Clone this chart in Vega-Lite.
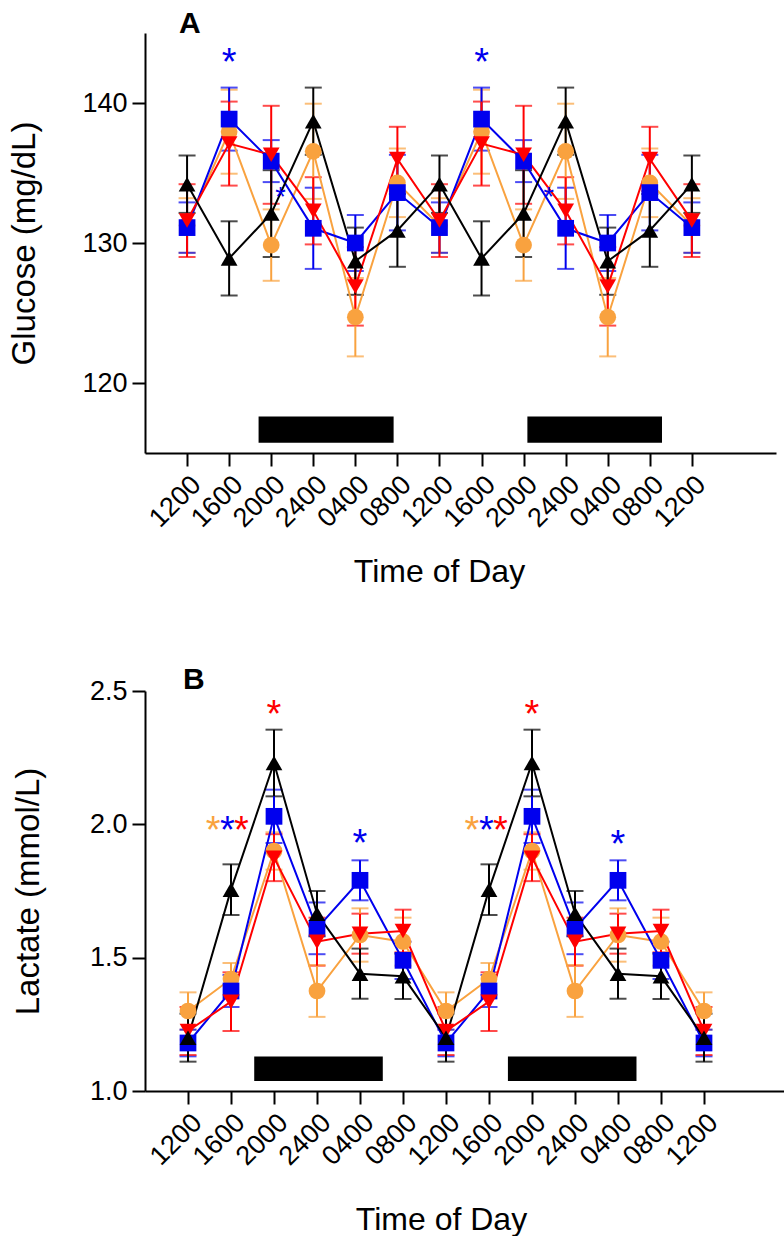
{
  "$schema": "https://vega.github.io/schema/vega-lite/v6.json",
  "background": "white",
  "padding": {"left": 8, "top": 9, "right": 0, "bottom": 0},
  "spacing": 77,
  "config": {
    "font": "Liberation Sans",
    "view": {"stroke": null},
    "axis": {
      "grid": false,
      "domainColor": "black",
      "domainWidth": 2,
      "tickColor": "black",
      "tickWidth": 2,
      "tickSize": 13,
      "labelColor": "black",
      "labelFontSize": 27,
      "labelPadding": 5,
      "titleColor": "black",
      "titleFontSize": 33,
      "titleFontWeight": "normal",
      "labelOverlap": false,
      "labelFlush": false
    }
  },
  "datasets": {
    "glu": [
      {"i":0,"g":"orange","m":131.25,"se":1.95},{"i":1,"g":"orange","m":137.95,"se":3.0},{"i":2,"g":"orange","m":129.85,"se":2.55},{"i":3,"g":"orange","m":136.55,"se":3.4},{"i":4,"g":"orange","m":124.7,"se":2.8},{"i":5,"g":"orange","m":134.3,"se":2.45},
      {"i":6,"g":"orange","m":131.25,"se":1.95},{"i":7,"g":"orange","m":137.95,"se":3.0},{"i":8,"g":"orange","m":129.85,"se":2.55},{"i":9,"g":"orange","m":136.55,"se":3.4},{"i":10,"g":"orange","m":124.7,"se":2.8},{"i":11,"g":"orange","m":134.3,"se":2.45},{"i":12,"g":"orange","m":131.25,"se":1.95},
      {"i":0,"g":"blue","m":131.1,"se":1.8},{"i":1,"g":"blue","m":138.85,"se":2.25},{"i":2,"g":"blue","m":135.85,"se":1.5},{"i":3,"g":"blue","m":131.05,"se":2.9},{"i":4,"g":"blue","m":130.0,"se":2.0},{"i":5,"g":"blue","m":133.6,"se":2.7},
      {"i":6,"g":"blue","m":131.1,"se":1.8},{"i":7,"g":"blue","m":138.85,"se":2.25},{"i":8,"g":"blue","m":135.85,"se":1.5},{"i":9,"g":"blue","m":131.05,"se":2.9},{"i":10,"g":"blue","m":130.0,"se":2.0},{"i":11,"g":"blue","m":133.6,"se":2.7},{"i":12,"g":"blue","m":131.1,"se":1.8},
      {"i":0,"g":"red","m":131.6,"se":2.6},{"i":1,"g":"red","m":137.1,"se":3.0},{"i":2,"g":"red","m":136.3,"se":3.5},{"i":3,"g":"red","m":132.3,"se":2.4},{"i":4,"g":"red","m":126.9,"se":2.8},{"i":5,"g":"red","m":136.0,"se":2.3},
      {"i":6,"g":"red","m":131.6,"se":2.6},{"i":7,"g":"red","m":137.1,"se":3.0},{"i":8,"g":"red","m":136.3,"se":3.5},{"i":9,"g":"red","m":132.3,"se":2.4},{"i":10,"g":"red","m":126.9,"se":2.8},{"i":11,"g":"red","m":136.0,"se":2.3},{"i":12,"g":"red","m":131.6,"se":2.6},
      {"i":0,"g":"black","m":134.2,"se":2.05},{"i":1,"g":"black","m":128.9,"se":2.65},{"i":2,"g":"black","m":132.1,"se":3.1},{"i":3,"g":"black","m":138.7,"se":2.4},{"i":4,"g":"black","m":128.7,"se":2.4},{"i":5,"g":"black","m":130.9,"se":2.6},
      {"i":6,"g":"black","m":134.2,"se":2.05},{"i":7,"g":"black","m":128.9,"se":2.65},{"i":8,"g":"black","m":132.1,"se":3.1},{"i":9,"g":"black","m":138.7,"se":2.4},{"i":10,"g":"black","m":128.7,"se":2.4},{"i":11,"g":"black","m":130.9,"se":2.6},{"i":12,"g":"black","m":134.2,"se":2.05}
    ],
    "lac": [
      {"i":0,"g":"orange","m":1.30,"se":0.07},{"i":1,"g":"orange","m":1.42,"se":0.06},{"i":2,"g":"orange","m":1.90,"se":0.07},{"i":3,"g":"orange","m":1.375,"se":0.097},{"i":4,"g":"orange","m":1.585,"se":0.10},{"i":5,"g":"orange","m":1.56,"se":0.09},
      {"i":6,"g":"orange","m":1.30,"se":0.07},{"i":7,"g":"orange","m":1.42,"se":0.06},{"i":8,"g":"orange","m":1.90,"se":0.07},{"i":9,"g":"orange","m":1.375,"se":0.097},{"i":10,"g":"orange","m":1.585,"se":0.10},{"i":11,"g":"orange","m":1.56,"se":0.09},{"i":12,"g":"orange","m":1.30,"se":0.07},
      {"i":0,"g":"blue","m":1.18,"se":0.05},{"i":1,"g":"blue","m":1.375,"se":0.06},{"i":2,"g":"blue","m":2.03,"se":0.10},{"i":3,"g":"blue","m":1.61,"se":0.097},{"i":4,"g":"blue","m":1.79,"se":0.075},{"i":5,"g":"blue","m":1.49,"se":0.07},
      {"i":6,"g":"blue","m":1.18,"se":0.05},{"i":7,"g":"blue","m":1.375,"se":0.06},{"i":8,"g":"blue","m":2.03,"se":0.10},{"i":9,"g":"blue","m":1.61,"se":0.097},{"i":10,"g":"blue","m":1.79,"se":0.075},{"i":11,"g":"blue","m":1.49,"se":0.07},{"i":12,"g":"blue","m":1.18,"se":0.05},
      {"i":0,"g":"red","m":1.225,"se":0.09},{"i":1,"g":"red","m":1.335,"se":0.11},{"i":2,"g":"red","m":1.875,"se":0.088},{"i":3,"g":"red","m":1.56,"se":0.09},{"i":4,"g":"red","m":1.59,"se":0.075},{"i":5,"g":"red","m":1.60,"se":0.08},
      {"i":6,"g":"red","m":1.225,"se":0.09},{"i":7,"g":"red","m":1.335,"se":0.11},{"i":8,"g":"red","m":1.875,"se":0.088},{"i":9,"g":"red","m":1.56,"se":0.09},{"i":10,"g":"red","m":1.59,"se":0.075},{"i":11,"g":"red","m":1.60,"se":0.08},{"i":12,"g":"red","m":1.225,"se":0.09},
      {"i":0,"g":"black","m":1.20,"se":0.09},{"i":1,"g":"black","m":1.755,"se":0.095},{"i":2,"g":"black","m":2.23,"se":0.125},{"i":3,"g":"black","m":1.665,"se":0.085},{"i":4,"g":"black","m":1.44,"se":0.094},{"i":5,"g":"black","m":1.43,"se":0.085},
      {"i":6,"g":"black","m":1.20,"se":0.09},{"i":7,"g":"black","m":1.755,"se":0.095},{"i":8,"g":"black","m":2.23,"se":0.125},{"i":9,"g":"black","m":1.665,"se":0.085},{"i":10,"g":"black","m":1.44,"se":0.094},{"i":11,"g":"black","m":1.43,"se":0.085},{"i":12,"g":"black","m":1.20,"se":0.09}
    ],
    "darkA": [{"x0":1.70,"x1":4.91,"y0":115.74,"y1":117.6},{"x0":8.09,"x1":11.29,"y0":115.74,"y1":117.6}],
    "darkB": [{"x0":1.54,"x1":4.53,"y0":1.0375,"y1":1.129},{"x0":7.44,"x1":10.43,"y0":1.0375,"y1":1.129}],
    "starsA": [
      {"i":1,"v":143.36,"g":"blue","t":"*","kind":"big"},
      {"i":7,"v":143.36,"g":"blue","t":"*","kind":"big"},
      {"i":2.22,"v":133.55,"g":"blue","t":"*","kind":"small"},
      {"i":8.6,"v":133.55,"g":"blue","t":"*","kind":"small"}
    ],
    "starsB": [
      {"i":2,"v":2.435,"g":"red","t":"*"},
      {"i":8,"v":2.435,"g":"red","t":"*"},
      {"i":0.583,"v":2.0,"g":"orange","t":"*"},
      {"i":0.916,"v":2.0,"g":"blue","t":"*"},
      {"i":1.243,"v":2.0,"g":"red","t":"*"},
      {"i":6.604,"v":2.0,"g":"orange","t":"*"},
      {"i":6.937,"v":2.0,"g":"blue","t":"*"},
      {"i":7.263,"v":2.0,"g":"red","t":"*"},
      {"i":4,"v":1.954,"g":"blue","t":"*"},
      {"i":10,"v":1.95,"g":"blue","t":"*"}
    ]
  },
  "vconcat": [
    {
      "width": 631,
      "height": 420,
      "title": {"text": "A", "anchor": "start", "frame": "group", "dx": 34, "fontSize": 30, "fontWeight": "bold", "offset": -6, "color": "black"},
      "layer": [
        {
          "data": {"name": "darkA"},
          "mark": {"type": "rect", "color": "black"},
          "encoding": {
            "x": {"field": "x0", "type": "quantitative", "title": "Time of Day",
                  "scale": {"domain": [-1, 14], "nice": false, "zero": false},
                  "axis": {"values": [0,1,2,3,4,5,6,7,8,9,10,11,12],
                           "labelExpr": "['1200','1600','2000','2400','0400','0800'][datum.value % 6]",
                           "labelAngle": -45, "labelFontSize": 27, "titleFontSize": 32, "titlePadding": 25, "titleX": 294}},
            "x2": {"field": "x1"},
            "y": {"field": "y0", "type": "quantitative", "title": "Glucose (mg/dL)",
                  "scale": {"domain": [115, 145], "nice": false, "zero": false},
                  "axis": {"values": [120, 130, 140], "titlePadding": 40}},
            "y2": {"field": "y1"}
          }
        },
        {
          "data": {"name": "glu"},
          "mark": {"type": "errorbar", "ticks": true, "size": 17, "thickness": 2},
          "encoding": {
            "x": {"field": "i", "type": "quantitative", "title": "Time of Day"},
            "y": {"field": "m", "type": "quantitative", "title": "Glucose (mg/dL)"},
            "yError": {"field": "se"},
            "color": {"field": "g", "type": "nominal", "legend": null,
                      "scale": {"domain": ["black", "blue", "orange", "red"], "range": ["#000000", "#0000EE", "#F9A23F", "#FF0000"]}}
          }
        },
        {
          "data": {"name": "glu"},
          "mark": {"type": "line", "strokeWidth": 2},
          "encoding": {
            "x": {"field": "i", "type": "quantitative", "title": "Time of Day"},
            "y": {"field": "m", "type": "quantitative", "title": "Glucose (mg/dL)"},
            "color": {"field": "g", "type": "nominal", "legend": null},
            "order": {"field": "i"}
          }
        },
        {
          "data": {"name": "glu"},
          "mark": {"type": "point", "filled": true, "opacity": 1, "size": 280, "strokeWidth": 0},
          "encoding": {
            "x": {"field": "i", "type": "quantitative", "title": "Time of Day"},
            "y": {"field": "m", "type": "quantitative", "title": "Glucose (mg/dL)"},
            "color": {"field": "g", "type": "nominal", "legend": null},
            "shape": {"field": "g", "type": "nominal", "legend": null,
                      "scale": {"domain": ["black", "blue", "orange", "red"], "range": ["triangle-up", "square", "circle", "triangle-down"]}}
          }
        },
        {
          "data": {"name": "starsA"},
          "transform": [{"filter": "datum.kind === 'big'"}],
          "mark": {"type": "text", "fontSize": 38, "baseline": "alphabetic", "dy": 19},
          "encoding": {
            "x": {"field": "i", "type": "quantitative", "title": "Time of Day"},
            "y": {"field": "v", "type": "quantitative", "title": "Glucose (mg/dL)"},
            "text": {"field": "t"},
            "color": {"field": "g", "type": "nominal", "legend": null}
          }
        },
        {
          "data": {"name": "starsA"},
          "transform": [{"filter": "datum.kind === 'small'"}],
          "mark": {"type": "text", "fontSize": 27, "baseline": "alphabetic", "dy": 13},
          "encoding": {
            "x": {"field": "i", "type": "quantitative", "title": "Time of Day"},
            "y": {"field": "v", "type": "quantitative", "title": "Glucose (mg/dL)"},
            "text": {"field": "t"},
            "color": {"field": "g", "type": "nominal", "legend": null}
          }
        }
      ]
    },
    {
      "width": 645,
      "height": 400,
      "title": {"text": "B", "anchor": "start", "frame": "group", "dx": 38, "fontSize": 30, "fontWeight": "bold", "offset": -18, "color": "black"},
      "layer": [
        {
          "data": {"name": "darkB"},
          "mark": {"type": "rect", "color": "black"},
          "encoding": {
            "x": {"field": "x0", "type": "quantitative", "title": "Time of Day",
                  "scale": {"domain": [-1, 14], "nice": false, "zero": false},
                  "axis": {"values": [0,1,2,3,4,5,6,7,8,9,10,11,12],
                           "labelExpr": "['1200','1600','2000','2400','0400','0800'][datum.value % 6]",
                           "labelAngle": -45, "labelFontSize": 27, "titleFontSize": 32, "titlePadding": 35, "titleX": 296}},
            "x2": {"field": "x1"},
            "y": {"field": "y0", "type": "quantitative", "title": "Lactate (mmol/L)",
                  "scale": {"domain": [1.0, 2.5], "nice": false, "zero": false},
                  "axis": {"values": [1.0, 1.5, 2.0, 2.5], "format": ".1f", "titlePadding": 44}},
            "y2": {"field": "y1"}
          }
        },
        {
          "data": {"name": "lac"},
          "mark": {"type": "errorbar", "ticks": true, "size": 17, "thickness": 2},
          "encoding": {
            "x": {"field": "i", "type": "quantitative", "title": "Time of Day"},
            "y": {"field": "m", "type": "quantitative", "title": "Lactate (mmol/L)"},
            "yError": {"field": "se"},
            "color": {"field": "g", "type": "nominal", "legend": null,
                      "scale": {"domain": ["black", "blue", "orange", "red"], "range": ["#000000", "#0000EE", "#F9A23F", "#FF0000"]}}
          }
        },
        {
          "data": {"name": "lac"},
          "mark": {"type": "line", "strokeWidth": 2},
          "encoding": {
            "x": {"field": "i", "type": "quantitative", "title": "Time of Day"},
            "y": {"field": "m", "type": "quantitative", "title": "Lactate (mmol/L)"},
            "color": {"field": "g", "type": "nominal", "legend": null},
            "order": {"field": "i"}
          }
        },
        {
          "data": {"name": "lac"},
          "mark": {"type": "point", "filled": true, "opacity": 1, "size": 280, "strokeWidth": 0},
          "encoding": {
            "x": {"field": "i", "type": "quantitative", "title": "Time of Day"},
            "y": {"field": "m", "type": "quantitative", "title": "Lactate (mmol/L)"},
            "color": {"field": "g", "type": "nominal", "legend": null},
            "shape": {"field": "g", "type": "nominal", "legend": null,
                      "scale": {"domain": ["black", "blue", "orange", "red"], "range": ["triangle-up", "square", "circle", "triangle-down"]}}
          }
        },
        {
          "data": {"name": "starsB"},
          "mark": {"type": "text", "fontSize": 38, "baseline": "alphabetic", "dy": 19},
          "encoding": {
            "x": {"field": "i", "type": "quantitative", "title": "Time of Day"},
            "y": {"field": "v", "type": "quantitative", "title": "Lactate (mmol/L)"},
            "text": {"field": "t"},
            "color": {"field": "g", "type": "nominal", "legend": null}
          }
        }
      ]
    }
  ]
}
